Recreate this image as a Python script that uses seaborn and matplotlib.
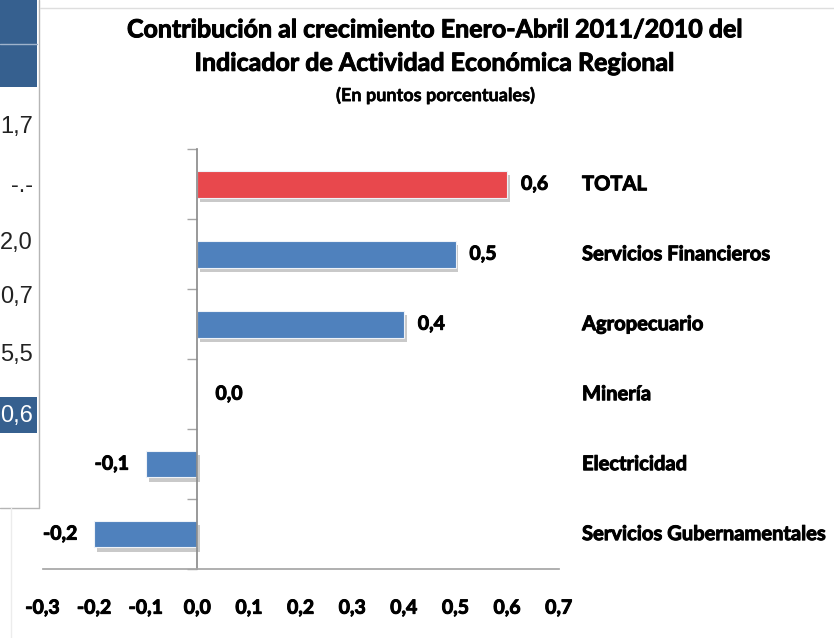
import numpy as np
import pandas as pd
import seaborn as sns
import matplotlib.pyplot as plt
import matplotlib.patheffects as pe
from matplotlib.patches import Rectangle
from matplotlib.lines import Line2D
from matplotlib.ticker import FuncFormatter

# --- data ---
sectores = ['TOTAL', 'Servicios Financieros', 'Agropecuario', 'Minería',
            'Electricidad', 'Servicios Gubernamentales']
contribucion = [0.6, 0.5, 0.4, 0.0, -0.1, -0.2]
# visible fragment of the neighbouring table (cut off on the left)
tabla_valores = ['1,7', '-.-', '2,0', '0,7', '5,5', '0,6']

TITLE = ("Contribución al crecimiento Enero-Abril 2011/2010 del\n"
         "Indicador de Actividad Económica Regional")
SUBTITLE = "(En puntos porcentuales)"

BLUE = '#4F81BD'
RED = '#E8484D'
DARK = '#36608F'
FONT = ['Lato', 'DejaVu Sans']
# Lato Bold is a bit light next to the original, thicken it with a thin stroke
HEAVY = [pe.withStroke(linewidth=0.7, foreground='black')]


def fmt_coma(v, pos=None):
    return f"{v:.1f}".replace('.', ',')


sns.set_theme(style="white")
plt.rcParams['font.family'] = FONT
plt.rcParams['text.color'] = 'black'
plt.rcParams['xtick.labelcolor'] = 'black'

df = pd.DataFrame({'Sector': sectores, 'Valor': contribucion})
colores = {s: (RED if s == 'TOTAL' else BLUE) for s in sectores}

fig = plt.figure(figsize=(8.34, 6.38), dpi=100)
ax = fig.add_axes([0.051, 0.108, 0.619, 0.658])

sns.barplot(data=df, y='Sector', x='Valor', hue='Sector', palette=colores,
            order=sectores, orient='h', width=0.38, legend=False, saturation=1,
            edgecolor='#eef2f8', linewidth=0.8, ax=ax)
for bar in ax.patches:
    bar.set_path_effects([pe.SimplePatchShadow(offset=(2, -3), shadow_rgbFace='#888888', alpha=0.45),
                          pe.Normal()])

ax.set_xlim(-0.3, 0.7)
ax.set_ylim(len(sectores) - 0.5, -0.5)
ax.set_xticks(np.arange(-0.3, 0.71, 0.1))
ax.xaxis.set_major_formatter(FuncFormatter(fmt_coma))
ax.set_yticks(np.arange(-0.5, len(sectores), 1.0))
ax.set_yticklabels([])
ax.set_xlabel('')
ax.set_ylabel('')

for side in ['top', 'right']:
    ax.spines[side].set_visible(False)
ax.spines['left'].set_position(('data', 0))
ax.spines['left'].set_color('#8c8c8c')
ax.spines['bottom'].set_color('#a6a6a6')
ax.tick_params(axis='x', direction='out', length=8, color='#a6a6a6', width=1,
               labelsize=14, pad=14)
ax.tick_params(axis='y', direction='out', length=7, color='#a6a6a6', width=1, left=True)
for lab in ax.get_xticklabels():
    lab.set_fontweight('bold')
    lab.set_path_effects(HEAVY)

# value labels and category names
tr = ax.get_yaxis_transform()
for i, (s, v) in enumerate(zip(sectores, contribucion)):
    if v < 0:
        ax.annotate(fmt_coma(v), (v, i), xytext=(-12, 0), textcoords='offset points',
                    ha='right', va='center', fontsize=14, fontweight='bold',
                    path_effects=HEAVY)
    else:
        ax.annotate(fmt_coma(v), (v, i), xytext=(10 if v > 0 else 13, 0),
                    textcoords='offset points', ha='left', va='center',
                    fontsize=14, fontweight='bold', path_effects=HEAVY)
    ax.text(1.045, i, s, transform=tr, ha='left', va='center',
            fontsize=14.5, fontweight='bold', clip_on=False, path_effects=HEAVY)

fig.text(0.522, 0.927, TITLE, ha='center', va='center', fontsize=18,
         fontweight='bold', linespacing=1.55, path_effects=HEAVY)
fig.text(0.522, 0.851, SUBTITLE, ha='center', va='center', fontsize=13,
         fontweight='bold', path_effects=[pe.withStroke(linewidth=0.4, foreground='black')])

# table fragment on the left of the screenshot
W, H = 834, 638
px = lambda x, y: (x / W, 1 - y / H)
fig.patches.append(Rectangle(px(0, 87), 37 / W, 87 / H, transform=fig.transFigure,
                             facecolor=DARK, edgecolor='none'))
fig.lines.append(Line2D([0, 37 / W], [1 - 44 / H] * 2, transform=fig.transFigure,
                        color='#9fb3cc', lw=1))
fig.patches.append(Rectangle(px(0, 433), 37 / W, 36 / H, transform=fig.transFigure,
                             facecolor=DARK, edgecolor='none'))
fig.lines.append(Line2D([39 / W] * 2, [1, 1 - 508 / H], transform=fig.transFigure,
                        color='#b5b5b5', lw=1))
fig.lines.append(Line2D([0, 39 / W], [1 - 508 / H] * 2, transform=fig.transFigure,
                        color='#b5b5b5', lw=1))
fig.lines.append(Line2D([11 / W] * 2, [1 - 508 / H, 0], transform=fig.transFigure,
                        color='#ececec', lw=1))
fig.lines.append(Line2D([40 / W, 1], [1 - 8 / H] * 2, transform=fig.transFigure,
                        color='#dedede', lw=1))
tabla_y = [127, 186, 243, 297, 355, 416]
for k, (val, yy) in enumerate(zip(tabla_valores, tabla_y)):
    last = k == len(tabla_valores) - 1
    fig.text(33 / W, 1 - yy / H, val, ha='right', va='center', fontsize=17,
             family=['Liberation Sans', 'DejaVu Sans'],
             color='white' if last else '#222222')

fig.savefig("out.png", dpi=100)
